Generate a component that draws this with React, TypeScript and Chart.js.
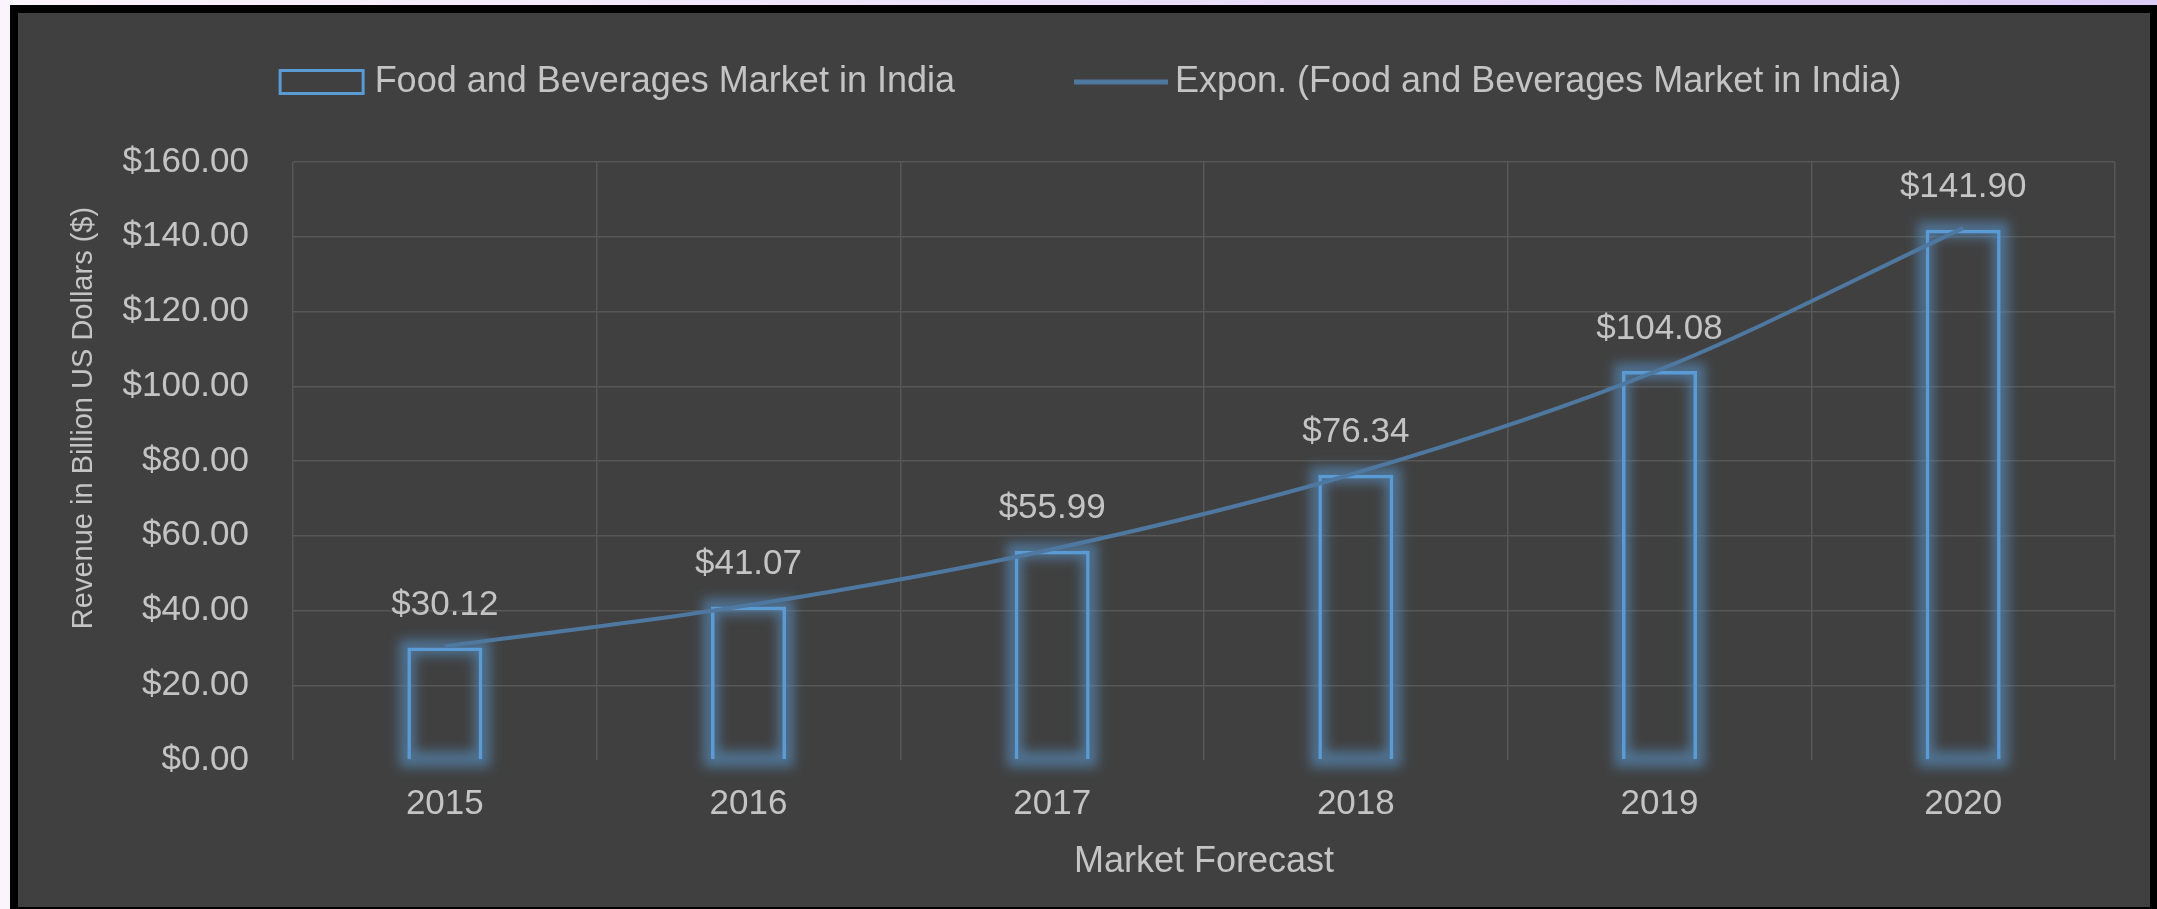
import React, { useEffect, useRef } from 'react';
import { Chart, registerables } from 'chart.js';

Chart.register(...registerables);

// ---- data ----
const years = ['2015', '2016', '2017', '2018', '2019', '2020'];
const revenue = [30.12, 41.07, 55.99, 76.34, 104.08, 141.9];
const trendValues = [30.4, 41.4, 56.4, 76.8, 104.4, 142.3];
const yMin = 0;
const yMax = 160;
const yStep = 20;
const seriesName = 'Food and Beverages Market in India';
const trendName = 'Expon. (Food and Beverages Market in India)';
const yTitle = 'Revenue in Billion US Dollars ($)';
const xTitle = 'Market Forecast';

const FONT = "'Liberation Sans', Arial, sans-serif";
const TEXT = '#c4c4c4';
const BAR_BLUE = '#5b9bd5';
const LINE_BLUE = '#4f78a1';
const GRID = '#575757';

const W = 2132;
const H = 894;

const money = (v: number) => '$' + v.toFixed(2);

const glowPlugin = {
  id: 'barGlow',
  beforeDatasetsDraw(chart: any) {
    const meta = chart.getDatasetMeta(0);
    const ctx = chart.ctx;
    ctx.save();
    ctx.filter = 'blur(6px)';
    ctx.strokeStyle = 'rgba(91,155,213,0.55)';
    ctx.lineWidth = 16;
    meta.data.forEach((el: any) => {
      const { x, y, base, width } = el.getProps(['x', 'y', 'base', 'width'], true);
      ctx.strokeRect(x - width / 2, y, width, base - y);
    });
    ctx.restore();
  },
};

const labelPlugin = {
  id: 'barLabels',
  afterDatasetsDraw(chart: any) {
    const meta = chart.getDatasetMeta(0);
    const ctx = chart.ctx;
    ctx.save();
    ctx.font = `35px ${FONT}`;
    ctx.fillStyle = TEXT;
    ctx.textAlign = 'center';
    ctx.textBaseline = 'middle';
    meta.data.forEach((el: any, i: number) => {
      const { x, y } = el.getProps(['x', 'y'], true);
      ctx.fillText(money(revenue[i]), x, y - 42);
    });
    ctx.restore();
  },
};

const legendPlugin = {
  id: 'customLegend',
  afterDraw(chart: any) {
    const ctx = chart.ctx;
    ctx.save();
    ctx.font = `36px ${FONT}`;
    const w1 = ctx.measureText(seriesName).width;
    const w2 = ctx.measureText(trendName).width;
    const boxW = 86, boxH = 23, gap1 = 10, itemGap = 119, lineW = 94, gap2 = 7;
    const total = boxW + gap1 + w1 + itemGap + lineW + gap2 + w2;
    let x = chart.width / 2 + 6 - total / 2;
    const cy = 69;
    ctx.strokeStyle = BAR_BLUE;
    ctx.lineWidth = 3;
    ctx.strokeRect(x + 1.5, cy - boxH / 2, boxW - 3, boxH);
    x += boxW + gap1;
    ctx.fillStyle = TEXT;
    ctx.textBaseline = 'middle';
    ctx.textAlign = 'left';
    ctx.fillText(seriesName, x, cy);
    x += w1 + itemGap;
    ctx.strokeStyle = LINE_BLUE;
    ctx.lineWidth = 5;
    ctx.beginPath();
    ctx.moveTo(x, cy);
    ctx.lineTo(x + lineW, cy);
    ctx.stroke();
    x += lineW + gap2;
    ctx.fillText(trendName, x, cy);
    ctx.restore();
  },
};

const yTitlePlugin = {
  id: 'yTitle',
  afterDraw(chart: any) {
    const ctx = chart.ctx;
    const area = chart.chartArea;
    ctx.save();
    ctx.translate(66, (area.top + area.bottom) / 2 - 43);
    ctx.rotate(-Math.PI / 2);
    ctx.font = `29px ${FONT}`;
    ctx.fillStyle = TEXT;
    ctx.textAlign = 'center';
    ctx.textBaseline = 'middle';
    ctx.fillText(yTitle, 0, 0);
    ctx.restore();
  },
};

export default function App() {
  const ref = useRef<HTMLCanvasElement>(null);

  useEffect(() => {
    if (!ref.current) return;
    const chart = new Chart(ref.current, {
      type: 'bar',
      data: {
        labels: years,
        datasets: [
          {
            type: 'bar',
            label: seriesName,
            data: revenue,
            backgroundColor: 'rgba(0,0,0,0)',
            borderColor: BAR_BLUE,
            borderWidth: 3.5,
            barPercentage: 0.247,
            categoryPercentage: 1,
            order: 1,
          } as any,
          {
            type: 'line',
            label: trendName,
            data: trendValues,
            borderColor: LINE_BLUE,
            borderWidth: 4,
            pointRadius: 0,
            cubicInterpolationMode: 'monotone',
            fill: false,
            order: 0,
          } as any,
        ],
      },
      options: {
        responsive: false,
        animation: false,
        devicePixelRatio: 1,
        layout: { padding: { top: 149, right: 35, left: 0, bottom: 0 } },
        plugins: {
          legend: { display: false },
          tooltip: { enabled: false },
        },
        scales: {
          x: {
            offset: true,
            grid: { color: GRID, lineWidth: 1.5, drawTicks: false, offset: true },
            border: { display: false },
            ticks: { color: TEXT, font: { family: FONT, size: 35 }, padding: 23 },
            title: {
              display: true,
              text: xTitle,
              color: TEXT,
              font: { family: FONT, size: 36 },
              padding: { top: 0, bottom: 23 },
            },
            afterFit(scale: any) {
              scale.height = 147;
            },
          },
          y: {
            min: yMin,
            max: yMax,
            grid: {
              color: (c: any) => (c.tick && c.tick.value === 0 ? 'rgba(0,0,0,0)' : GRID),
              lineWidth: 1.5,
              drawTicks: false,
            },
            border: { display: false },
            ticks: {
              stepSize: yStep,
              color: TEXT,
              font: { family: FONT, size: 35 },
              padding: 44,
              callback: (v: any) => money(Number(v)),
            },
            afterFit(scale: any) {
              scale.width = 275;
            },
          },
        },
      },
      plugins: [glowPlugin, labelPlugin, legendPlugin, yTitlePlugin],
    });
    return () => chart.destroy();
  }, []);

  return (
    <div
      style={{
        position: 'fixed',
        left: 0,
        top: 0,
        width: 2157,
        height: 909,
        background: 'linear-gradient(90deg, #fcf4fc, #dccbf5)',
        overflow: 'hidden',
      }}
    >
      <div style={{ position: 'absolute', left: 10, top: 5, width: 2147, height: 904, background: '#000' }} />
      <div style={{ position: 'absolute', left: 18, top: 13, width: W, height: H, background: '#404040' }}>
        <canvas ref={ref} width={W} height={H} style={{ display: 'block', width: W, height: H }} />
      </div>
    </div>
  );
}
